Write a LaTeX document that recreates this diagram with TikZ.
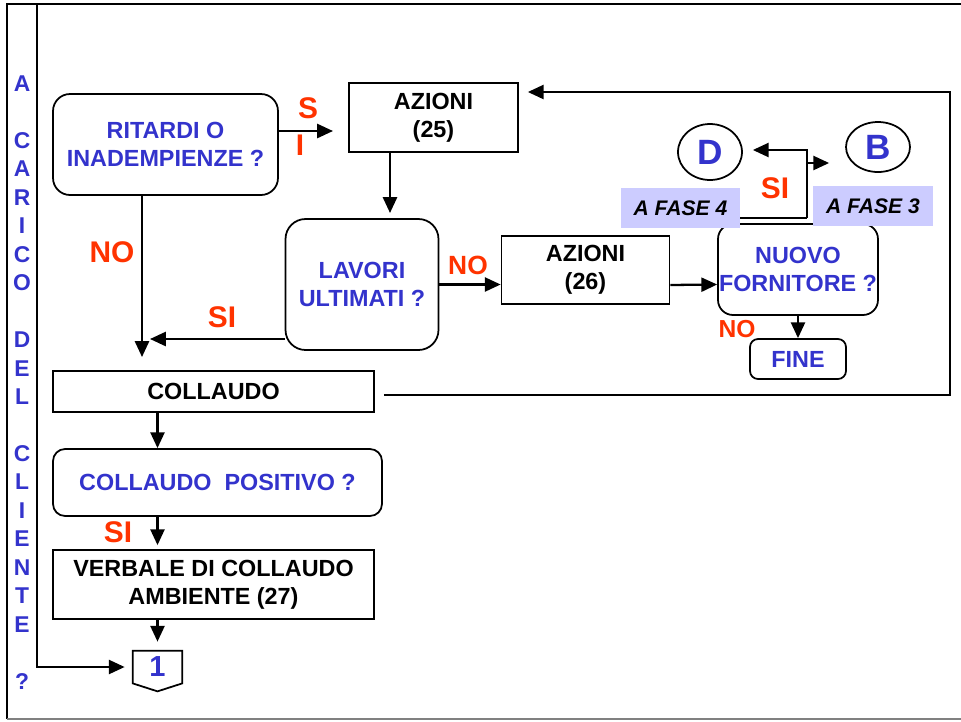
\documentclass[tikz,border=0pt]{standalone}
\usepackage{fontspec}
\setmainfont{Liberation Sans}
\usepackage{tikz}
\usetikzlibrary{arrows.meta,shapes.geometric}
\definecolor{blu}{HTML}{3333CC}
\definecolor{rosso}{HTML}{FF3300}
\definecolor{lilla}{HTML}{CCCCFF}

\begin{document}
\begin{tikzpicture}[x=0.02cm, y=-0.02cm,
  box/.style={draw, line width=1pt, inner sep=0pt, align=center, font=\fontsize{13.3}{16}\selectfont\bfseries},
  rbox/.style={box, rounded corners=#1, text=blu}, rbox/.default=8pt,
  cerchio/.style={ellipse, draw, line width=1pt, inner sep=0pt, text=blu, font=\fontsize{20}{20}\selectfont\bfseries},
  fase/.style={fill=lilla, inner sep=0pt, minimum height=0.8cm, font=\fontsize{12}{12}\selectfont\bfseries\itshape},
  lab/.style={text=rosso, inner sep=0pt, font=\fontsize{#1}{#1}\selectfont\bfseries}, lab/.default=17,
  arr/.style={-{Triangle[length=9pt,width=8pt]}, line width=1.3pt},
  linea/.style={line width=1.3pt}]
  \useasboundingbox (0,0) rectangle (961,721);

  % cornice e colonna a sinistra
  \draw[linea] (961,4) -- (7,4) -- (7,719);
  \draw[gray, line width=0.8pt] (7,719) -- (961,719);
  \node[text=blu, align=center, inner sep=0pt, font=\fontsize{13}{16.2}\selectfont\bfseries] (lato) at (22,382.5)
    {A\\~\\C\\A\\R\\I\\C\\O\\~\\D\\E\\L\\~\\C\\L\\I\\E\\N\\T\\E\\~\\?};

  % blocchi
  \node[rbox=0.34cm, minimum width=4.5cm, minimum height=2.02cm] (ritardi) at (165.5,144.5) {RITARDI O\\INADEMPIENZE ?};
  \node[box, minimum width=3.38cm, minimum height=1.38cm] (az25) at (433.5,117.5) {AZIONI\\(25)};
  \node[rbox=0.4cm, minimum width=3.06cm, minimum height=2.62cm] (lavori) at (362,284.5) {LAVORI\\ULTIMATI ?};
  \node[box, minimum width=3.36cm, minimum height=1.36cm] (az26) at (585.5,270) {AZIONI\\(26)};
  \node[rbox=0.3cm, minimum width=3.2cm, minimum height=1.82cm] (nuovo) at (798,269.5) {NUOVO\\FORNITORE ?};
  \node[rbox=0.16cm, minimum width=1.92cm, minimum height=0.8cm] (fine) at (798,359) {FINE};
  \node[cerchio, minimum width=1.28cm, minimum height=1.12cm] (D) at (710,152) {D};
  \node[cerchio, minimum width=1.28cm, minimum height=1cm] (B) at (878,147) {B};
  \node[fase, minimum width=2.38cm] (fase4) at (680.5,208) {A FASE 4};
  \node[fase, minimum width=2.4cm] (fase3) at (873,206) {A FASE 3};
  \node[box, minimum width=6.42cm, minimum height=0.82cm] (collaudo) at (213.5,391.5) {COLLAUDO};
  \node[rbox=0.24cm, minimum width=6.58cm, minimum height=1.34cm] (positivo) at (217.5,482.5) {COLLAUDO\ \ POSITIVO ?};
  \node[box, minimum width=6.42cm, minimum height=1.38cm] (verbale) at (213.5,584.5) {VERBALE DI COLLAUDO\\AMBIENTE (27)};
  \node[inner sep=0pt, minimum width=0.98cm, minimum height=0.64cm, text=blu, font=\fontsize{16.5}{16.5}\selectfont\bfseries] (uno) at (157.5,667) {1};
  \draw[line width=1pt] (uno.north west) -- (uno.north east) -- (uno.south east) -- ([yshift=-0.16cm]uno.south) -- (uno.south west) -- cycle;

  % etichette
  \node[lab] (siS) at (308,108) {S};
  \node[lab] (siI) at (300,145) {I};
  \node[lab] (no1) at (112,252) {NO};
  \node[lab] (si1) at (222,317) {SI};
  \node[lab=15] (no2) at (468,265) {NO};
  \node[lab] (si2) at (775,188) {SI};
  \node[lab=14] (no3) at (737,329) {NO};
  \node[lab] (si3) at (118,532) {SI};

  % collegamenti
  \coordinate (s1) at (333,131);
  \coordinate (s2) at (390,213);
  \coordinate (n1) at (142,357);
  \coordinate (s3) at (150,339);
  \coordinate (j1) at (807,150);
  \coordinate (j2) at (807,163);
  \coordinate (h1) at (807,218);
  \coordinate (r1) at (950,395);
  \coordinate (r2) at (950,92);
  \draw[arr] (ritardi.east |- s1) -- (s1);
  \draw[arr] (az25.south -| s2) -- (s2);
  \draw[arr] (ritardi.south -| n1) -- (n1);
  \draw[arr] (lavori.west |- s3) -- (s3);
  \draw[arr] (lavori.east) -- (az26.west |- lavori.east);
  \draw[arr] ([yshift=-0.3cm]az26.east) -- ([yshift=-0.3cm]nuovo.west);
  \draw[arr] (nuovo.south) -- (fine.north);
  \draw[linea] (fase4.east |- h1) -- (h1);
  \draw[arr] (h1) -- (j1) -- ([xshift=0.2cm]D.east |- j1);
  \draw[arr] (j2) -- ([xshift=-0.32cm]B.west |- j2);
  \draw[arr] ([xshift=0.18cm]collaudo.east |- r1) -- (r1) -- (r2) -- ([xshift=0.18cm]az25.east |- r2);
  \draw[arr] (collaudo.south -| uno) -- (positivo.north -| uno);
  \draw[arr] (positivo.south -| uno) -- ([yshift=0.08cm]verbale.north -| uno);
  \draw[arr] (verbale.south -| uno) -- ([yshift=0.18cm]uno.north);
  \draw[arr] (37,4) -- (37,667) -- ([xshift=-0.16cm]uno.west);
\end{tikzpicture}
\end{document}
